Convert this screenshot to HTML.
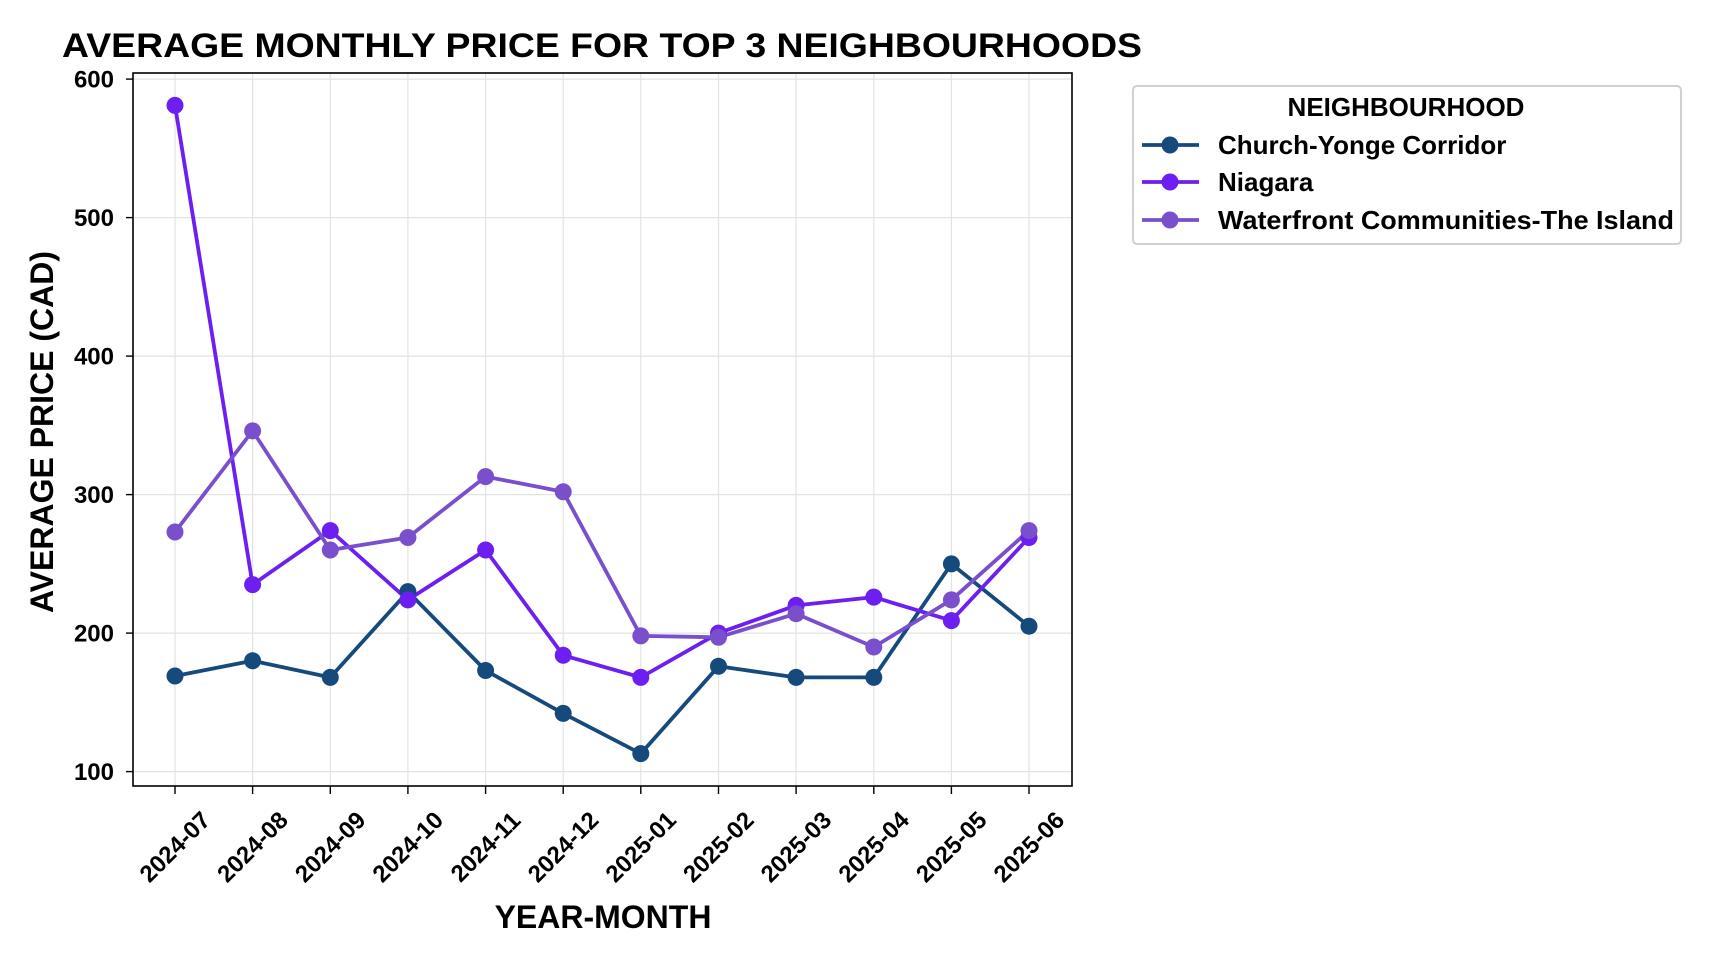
<!DOCTYPE html>
<html><head><meta charset="utf-8"><style>
html,body{margin:0;padding:0;background:#fff;}
svg{display:block;font-family:"Liberation Sans",sans-serif;font-weight:bold;}
</style></head><body>
<svg width="1728" height="960" viewBox="0 0 1728 960" xmlns="http://www.w3.org/2000/svg">
<rect width="1728" height="960" fill="#fff"/>
<text x="62" y="57" font-size="34" textLength="1080" lengthAdjust="spacingAndGlyphs">AVERAGE MONTHLY PRICE FOR TOP 3 NEIGHBOURHOODS</text>
<g stroke="#e3e3e3" stroke-width="1.2">
<line x1="133" x2="1072" y1="771.6" y2="771.6"/><line x1="133" x2="1072" y1="633.1" y2="633.1"/><line x1="133" x2="1072" y1="494.6" y2="494.6"/><line x1="133" x2="1072" y1="356.1" y2="356.1"/><line x1="133" x2="1072" y1="217.6" y2="217.6"/><line x1="133" x2="1072" y1="79.1" y2="79.1"/>
<line x1="175" x2="175" y1="73" y2="786"/><line x1="252.6" x2="252.6" y1="73" y2="786"/><line x1="330.3" x2="330.3" y1="73" y2="786"/><line x1="407.9" x2="407.9" y1="73" y2="786"/><line x1="485.6" x2="485.6" y1="73" y2="786"/><line x1="563.2" x2="563.2" y1="73" y2="786"/><line x1="640.8" x2="640.8" y1="73" y2="786"/><line x1="718.5" x2="718.5" y1="73" y2="786"/><line x1="796.1" x2="796.1" y1="73" y2="786"/><line x1="873.8" x2="873.8" y1="73" y2="786"/><line x1="951.4" x2="951.4" y1="73" y2="786"/><line x1="1029" x2="1029" y1="73" y2="786"/>
</g>
<rect x="133" y="73" width="939" height="713" fill="none" stroke="#000" stroke-width="1.6"/>
<g stroke="#000" stroke-width="1.4">
<line x1="126" x2="133" y1="771.6" y2="771.6"/><line x1="126" x2="133" y1="633.1" y2="633.1"/><line x1="126" x2="133" y1="494.6" y2="494.6"/><line x1="126" x2="133" y1="356.1" y2="356.1"/><line x1="126" x2="133" y1="217.6" y2="217.6"/><line x1="126" x2="133" y1="79.1" y2="79.1"/>
<line x1="175" x2="175" y1="786" y2="794"/><line x1="252.6" x2="252.6" y1="786" y2="794"/><line x1="330.3" x2="330.3" y1="786" y2="794"/><line x1="407.9" x2="407.9" y1="786" y2="794"/><line x1="485.6" x2="485.6" y1="786" y2="794"/><line x1="563.2" x2="563.2" y1="786" y2="794"/><line x1="640.8" x2="640.8" y1="786" y2="794"/><line x1="718.5" x2="718.5" y1="786" y2="794"/><line x1="796.1" x2="796.1" y1="786" y2="794"/><line x1="873.8" x2="873.8" y1="786" y2="794"/><line x1="951.4" x2="951.4" y1="786" y2="794"/><line x1="1029" x2="1029" y1="786" y2="794"/>
</g>
<g font-size="24" text-anchor="end">
<text x="114" y="780">100</text><text x="114" y="641.5">200</text><text x="114" y="503">300</text><text x="114" y="364.5">400</text><text x="114" y="226">500</text><text x="114" y="87.5">600</text>
</g>
<g font-size="24" text-anchor="middle">
<text transform="translate(175,847) rotate(-45)" dy="8">2024-07</text>
<text transform="translate(252.6,847) rotate(-45)" dy="8">2024-08</text>
<text transform="translate(330.3,847) rotate(-45)" dy="8">2024-09</text>
<text transform="translate(407.9,847) rotate(-45)" dy="8">2024-10</text>
<text transform="translate(485.6,847) rotate(-45)" dy="8">2024-11</text>
<text transform="translate(563.2,847) rotate(-45)" dy="8">2024-12</text>
<text transform="translate(640.8,847) rotate(-45)" dy="8">2025-01</text>
<text transform="translate(718.5,847) rotate(-45)" dy="8">2025-02</text>
<text transform="translate(796.1,847) rotate(-45)" dy="8">2025-03</text>
<text transform="translate(873.8,847) rotate(-45)" dy="8">2025-04</text>
<text transform="translate(951.4,847) rotate(-45)" dy="8">2025-05</text>
<text transform="translate(1029,847) rotate(-45)" dy="8">2025-06</text>
</g>
<text x="603" y="928" font-size="32" text-anchor="middle">YEAR-MONTH</text>
<text transform="translate(53,432) rotate(-90)" font-size="32" text-anchor="middle">AVERAGE PRICE (CAD)</text>
<g fill="none" stroke-width="3.8" stroke-linejoin="round">
<polyline stroke="#164a7c" points="175,676 252.6,660.8 330.3,677.4 407.9,591.6 485.6,670.5 563.2,713.4 640.8,753.6 718.5,666.3 796.1,677.4 873.8,677.4 951.4,563.9 1029,626.2"/>
<polyline stroke="#6c1ff0" points="175,105.4 252.6,584.6 330.3,530.6 407.9,599.9 485.6,550 563.2,655.3 640.8,677.4 718.5,633.1 796.1,605.4 873.8,597.1 951.4,620.6 1029,537.5"/>
<polyline stroke="#7a4fcc" points="175,532 252.6,430.9 330.3,550 407.9,537.5 485.6,476.6 563.2,491.8 640.8,635.9 718.5,637.3 796.1,613.7 873.8,647 951.4,599.9 1029,530.6"/>
</g>
<g fill="#164a7c"><circle cx="175" cy="676" r="8.5"/><circle cx="252.6" cy="660.8" r="8.5"/><circle cx="330.3" cy="677.4" r="8.5"/><circle cx="407.9" cy="591.6" r="8.5"/><circle cx="485.6" cy="670.5" r="8.5"/><circle cx="563.2" cy="713.4" r="8.5"/><circle cx="640.8" cy="753.6" r="8.5"/><circle cx="718.5" cy="666.3" r="8.5"/><circle cx="796.1" cy="677.4" r="8.5"/><circle cx="873.8" cy="677.4" r="8.5"/><circle cx="951.4" cy="563.9" r="8.5"/><circle cx="1029" cy="626.2" r="8.5"/></g>
<g fill="#6c1ff0"><circle cx="175" cy="105.4" r="8.5"/><circle cx="252.6" cy="584.6" r="8.5"/><circle cx="330.3" cy="530.6" r="8.5"/><circle cx="407.9" cy="599.9" r="8.5"/><circle cx="485.6" cy="550" r="8.5"/><circle cx="563.2" cy="655.3" r="8.5"/><circle cx="640.8" cy="677.4" r="8.5"/><circle cx="718.5" cy="633.1" r="8.5"/><circle cx="796.1" cy="605.4" r="8.5"/><circle cx="873.8" cy="597.1" r="8.5"/><circle cx="951.4" cy="620.6" r="8.5"/><circle cx="1029" cy="537.5" r="8.5"/></g>
<g fill="#7a4fcc"><circle cx="175" cy="532" r="8.5"/><circle cx="252.6" cy="430.9" r="8.5"/><circle cx="330.3" cy="550" r="8.5"/><circle cx="407.9" cy="537.5" r="8.5"/><circle cx="485.6" cy="476.6" r="8.5"/><circle cx="563.2" cy="491.8" r="8.5"/><circle cx="640.8" cy="635.9" r="8.5"/><circle cx="718.5" cy="637.3" r="8.5"/><circle cx="796.1" cy="613.7" r="8.5"/><circle cx="873.8" cy="647" r="8.5"/><circle cx="951.4" cy="599.9" r="8.5"/><circle cx="1029" cy="530.6" r="8.5"/></g>
<rect x="1133" y="86" width="548" height="158" rx="4" fill="#fff" stroke="#d0d0d0" stroke-width="2"/>
<text x="1406" y="116" font-size="26" text-anchor="middle">NEIGHBOURHOOD</text>
<g stroke-width="3.8">
<line x1="1142" x2="1199" y1="145" y2="145" stroke="#164a7c"/><circle cx="1170" cy="145" r="8.5" fill="#164a7c"/>
<line x1="1142" x2="1199" y1="182" y2="182" stroke="#6c1ff0"/><circle cx="1170" cy="182" r="8.5" fill="#6c1ff0"/>
<line x1="1142" x2="1199" y1="220" y2="220" stroke="#7a4fcc"/><circle cx="1170" cy="220" r="8.5" fill="#7a4fcc"/>
</g>
<g font-size="26">
<text x="1218" y="154">Church-Yonge Corridor</text>
<text x="1218" y="191">Niagara</text>
<text x="1218" y="229" textLength="456" lengthAdjust="spacingAndGlyphs">Waterfront Communities-The Island</text>
</g>
</svg>
</body></html>
